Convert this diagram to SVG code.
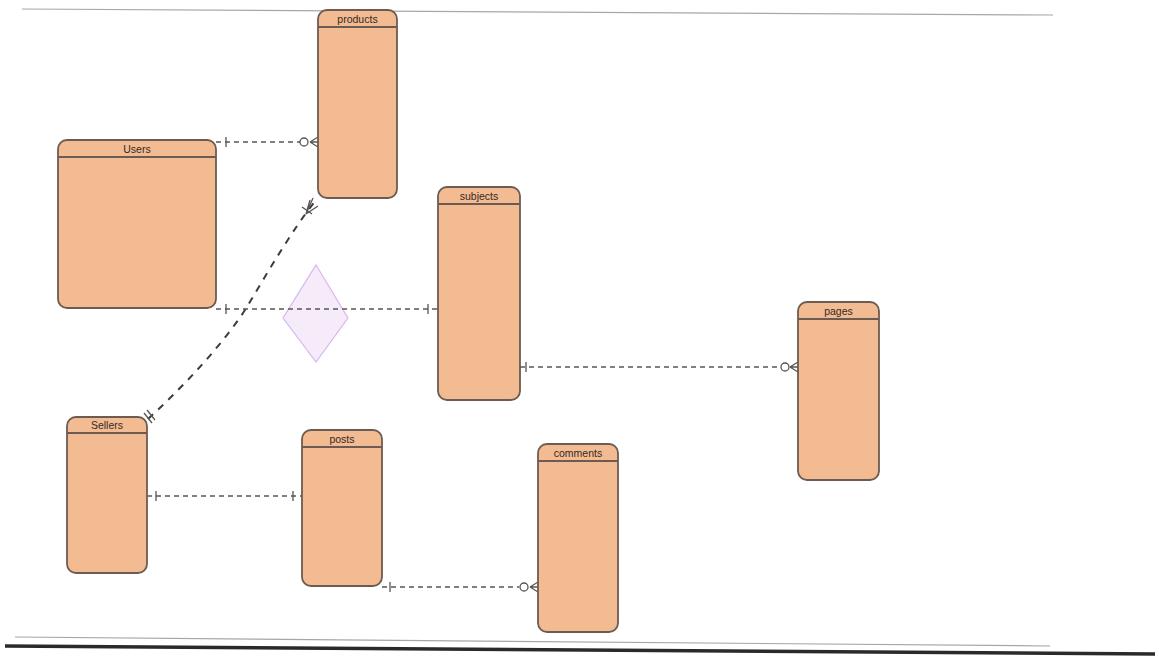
<svg xmlns="http://www.w3.org/2000/svg" width="1159" height="657" viewBox="0 0 1159 657">
<style>
.ent rect{fill:#f2bb92;stroke:#6d5b51;stroke-width:1.8}
.ent line{stroke:#6d5b51;stroke-width:1.8}
.ent text{font-family:"Liberation Sans",Arial,sans-serif;font-size:10.5px;fill:#342a26;text-anchor:middle}
.rel{fill:none;stroke:#5a5553;stroke-width:1.3;stroke-dasharray:5 4}
.end{fill:none;stroke:#5a5553;stroke-width:1.3}
.endc{fill:#fff;stroke:#5a5553;stroke-width:1.3}
</style>
<rect width="1159" height="657" fill="#ffffff"/>
<line x1="22" y1="9" x2="1053" y2="15" stroke="#a7a7ad" stroke-width="1.2"/>
<line x1="15" y1="637" x2="1050" y2="646" stroke="#a5a5ad" stroke-width="1.2"/>
<line x1="5" y1="646" x2="1155" y2="654" stroke="#2a2a2a" stroke-width="3.5"/>

<g id="diamond">
<polygon points="316,265 348,318 316,362 283,318" fill="#f5ebf9" stroke="#d9b6ee" stroke-width="1.2"/>
</g>

<g id="connectors">
<!-- Users - products -->
<path class="rel" d="M216,142 H300"/>
<path class="end" d="M226,137 V147 M310,142 L318,137 M310,142 H318 M310,142 L318,147"/>
<circle class="endc" cx="304" cy="142" r="4"/>
<!-- Users - subjects -->
<path class="rel" d="M216,309 H438"/>
<path class="end" d="M226,304 V314 M428,304 V314"/>
<!-- Sellers - products -->
<path d="M148,419 C185,385 222,345 245,310 C268,272 292,230 316,200" fill="none" stroke="#3f3b3a" stroke-width="2" stroke-dasharray="7 7"/>
<path class="end" d="M144,413 L152,423 M147,410 L155,420 M306,214 L310,200 M306,214 L318,206 M306,214 L313,198 M302,207 L312,214"/>
<!-- subjects - pages -->
<path class="rel" d="M520,367 H781"/>
<path class="end" d="M526,362 V372 M790,367 L798,362 M790,367 H798 M790,367 L798,372"/>
<circle class="endc" cx="785" cy="367" r="4"/>
<!-- Sellers - posts -->
<path class="rel" d="M147,496 H302"/>
<path class="end" d="M156,491 V501 M293,491 V501"/>
<!-- posts - comments -->
<path class="rel" d="M382,587 H519"/>
<path class="end" d="M390,582 V592 M530,587 L538,582 M530,587 H538 M530,587 L538,592"/>
<circle class="endc" cx="524" cy="587" r="4"/>
</g>

<g id="products" class="ent">
<rect x="318" y="10" width="79" height="188" rx="9"/>
<line x1="318" y1="27" x2="397" y2="27"/>
<text x="357.5" y="23">products</text>
</g>
<g id="users" class="ent">
<rect x="58" y="140" width="158" height="168" rx="9"/>
<line x1="58" y1="157" x2="216" y2="157"/>
<text x="137" y="153">Users</text>
</g>
<g id="subjects" class="ent">
<rect x="438" y="187" width="82" height="213" rx="9"/>
<line x1="438" y1="204" x2="520" y2="204"/>
<text x="479" y="200">subjects</text>
</g>
<g id="pages" class="ent">
<rect x="798" y="302" width="81" height="178" rx="9"/>
<line x1="798" y1="319" x2="879" y2="319"/>
<text x="838.5" y="315">pages</text>
</g>
<g id="sellers" class="ent">
<rect x="67" y="417" width="80" height="156" rx="9"/>
<line x1="67" y1="433" x2="147" y2="433"/>
<text x="107" y="429">Sellers</text>
</g>
<g id="posts" class="ent">
<rect x="302" y="430" width="80" height="156" rx="9"/>
<line x1="302" y1="447" x2="382" y2="447"/>
<text x="342" y="443">posts</text>
</g>
<g id="comments" class="ent">
<rect x="538" y="444" width="80" height="188" rx="9"/>
<line x1="538" y1="461" x2="618" y2="461"/>
<text x="578" y="457">comments</text>
</g>
</svg>
